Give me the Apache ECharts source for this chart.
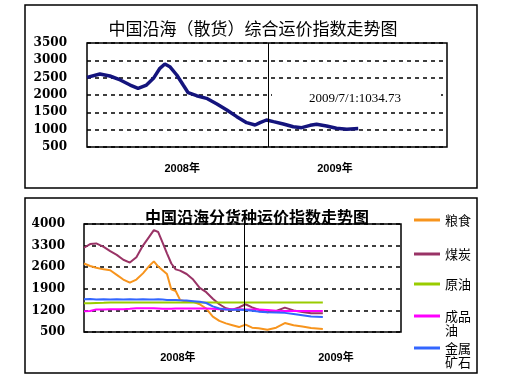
<!DOCTYPE html>
<html><head><meta charset="utf-8">
<script src="https://cdn.jsdelivr.net/npm/echarts@6/dist/echarts.min.js"></script>
<style>html,body{margin:0;padding:0;background:#fff}#c{width:512px;height:384px}</style>
</head><body><div id="c"></div>
<script>
// ---- data ----
const topTitle = '中国沿海（散货）综合运价指数走势图';
const bottomTitle = '中国沿海分货种运价指数走势图';
const yearLabels = ['2008年', '2009年'];
const topYTicks = [500, 1000, 1500, 2000, 2500, 3000, 3500];
const bottomYTicks = [500, 1200, 1900, 2600, 3300, 4000];
const lastNote = '2009/7/1:1034.73';

const compDates = ['2008-01-01','2008-01-27','2008-02-16','2008-03-08','2008-03-28','2008-04-13','2008-04-30','2008-05-14','2008-05-27','2008-06-06','2008-06-16','2008-06-30','2008-07-13','2008-07-23','2008-08-09','2008-08-29','2008-09-19','2008-10-09','2008-10-29','2008-11-18','2008-12-05','2008-12-15','2008-12-28','2009-01-11','2009-01-31','2009-02-20','2009-03-09','2009-03-26','2009-04-08','2009-04-28','2009-05-18','2009-06-08','2009-07-01'];
const compValues = [2510,2606,2548,2433,2288,2192,2288,2481,2770,2894,2817,2577,2288,2067,1980,1904,1740,1567,1375,1202,1135,1202,1279,1231,1163,1086,1058,1125,1154,1106,1039,1010,1035];

const cargoDates = ['2008-01-01','2008-01-15','2008-01-29','2008-02-15','2008-03-01','2008-03-16','2008-03-31','2008-04-15','2008-04-30','2008-05-15','2008-05-30','2008-06-09','2008-06-19','2008-06-29','2008-07-09','2008-07-19','2008-07-29','2008-08-08','2008-08-23','2008-09-07','2008-09-22','2008-10-07','2008-10-22','2008-11-06','2008-11-21','2008-12-06','2008-12-21','2009-01-05','2009-01-20','2009-02-04','2009-02-24','2009-03-16','2009-04-05','2009-04-25','2009-05-15','2009-06-04','2009-07-01'];
const grainValues = [2720,2640,2580,2530,2500,2350,2200,2100,2200,2400,2650,2790,2620,2500,2380,1880,1830,1540,1480,1480,1400,1260,1000,860,780,720,660,740,640,620,570,640,790,720,680,630,600];
const coalValues = [3230,3350,3370,3260,3120,3000,2840,2750,2920,3300,3600,3800,3740,3400,3050,2720,2530,2490,2380,2200,1930,1790,1580,1400,1270,1220,1300,1400,1300,1220,1140,1180,1290,1200,1150,1110,1110];
const crudeValues = [1430,1430,1440,1450,1460,1460,1460,1460,1460,1460,1460,1460,1460,1460,1460,1460,1460,1460,1460,1460,1460,1460,1460,1460,1460,1460,1460,1460,1460,1460,1460,1460,1460,1460,1460,1460,1460];
const productValues = [1170,1180,1230,1230,1240,1240,1240,1250,1270,1270,1270,1270,1260,1250,1250,1250,1260,1260,1260,1260,1260,1260,1250,1240,1240,1240,1240,1230,1230,1230,1210,1190,1180,1180,1180,1180,1180];
const oreValues = [1560,1570,1550,1560,1550,1560,1550,1560,1550,1560,1550,1550,1560,1550,1540,1540,1540,1530,1520,1500,1480,1440,1330,1260,1230,1220,1220,1210,1190,1160,1140,1130,1120,1080,1040,1000,990];

const seriesNames = ['粮食','煤炭','原油','成品油','金属矿石'];
const legendLabels = ['粮食','煤炭','原油','成品\n油','金属\n矿石'];
const seriesColors = ['#F7941D','#993366','#99CC00','#FF00FF','#3366FF'];
const cargoValues = [grainValues, coalValues, crudeValues, productValues, oreValues];

// ---- helpers ----
const day0 = Date.UTC(2008,0,1);
function dayOf(s){ const p = s.split('-').map(Number); return (Date.UTC(p[0],p[1]-1,p[2]) - day0)/86400000; }
const splitDay = dayOf('2009-01-01');
const axisEnd = 726;

const chart = echarts.init(document.getElementById('c'));
const yLabelStyle = {fontFamily:'DejaVu Serif', fontSize:12, fontWeight:'bold', color:'#000', formatter: v => String(v)};
const xLabelStyle = {fontFamily:'Liberation Sans, Noto Sans CJK SC', fontSize:11, fontWeight:'bold', color:'#000'};
const dashed = {color:'#000', width:1.5, type:[4,4]};

const legends = seriesNames.map((n,i) => {
  const wrapped = legendLabels[i].indexOf('\n') >= 0;
  const iconY = [220,254,284,316,348][i];
  return {
    data:[n], orient:'vertical', left:414, top: wrapped ? iconY - 21 : iconY - 7, padding:0,
    itemWidth:26, itemHeight:3, icon:'rect',
    formatter: () => wrapped ? ' \n' + legendLabels[i] : legendLabels[i],
    textStyle:{fontFamily:'Noto Sans CJK SC', fontSize:13, lineHeight:14, color:'#000'}
  };
});

chart.setOption({
  animation:false,
  backgroundColor:'#fff',
  title:[
    {text:topTitle, left:248, top:15, textAlign:'center', textStyle:{fontFamily:'Noto Sans CJK SC', fontSize:17, fontWeight:'normal', color:'#000'}},
    {text:bottomTitle, left:252, top:204, textAlign:'center', textStyle:{fontFamily:'Noto Sans CJK SC', fontSize:16, fontWeight:'bold', color:'#000'}}
  ],
  legend: legends,
  grid:[
    {left:87, top:43, width:360, height:104, show:true, borderColor:'#000', borderWidth:1.5},
    {left:84, top:224, width:317, height:108, show:true, borderColor:'#000', borderWidth:1.5}
  ],
  xAxis:[
    {gridIndex:0, type:'value', min:0, max:axisEnd, axisLine:{show:false}, axisTick:{show:false}, splitLine:{show:false},
     axisLabel:{customValues:[192,500], margin:16, formatter:v => v < splitDay ? yearLabels[0] : yearLabels[1], ...xLabelStyle}},
    {gridIndex:1, type:'value', min:0, max:axisEnd, axisLine:{show:false}, axisTick:{show:false}, splitLine:{show:false},
     axisLabel:{customValues:[215,577], margin:20, formatter:v => v < splitDay ? yearLabels[0] : yearLabels[1], ...xLabelStyle}}
  ],
  yAxis:[
    {gridIndex:0, type:'value', min:500, max:3500, interval:500, axisLine:{show:false}, axisTick:{show:false},
     axisLabel:{margin:20, ...yLabelStyle}, splitLine:{show:true, lineStyle:dashed}},
    {gridIndex:1, type:'value', min:500, max:4000, axisLine:{show:false},
     axisTick:{show:false, customValues:bottomYTicks},
     axisLabel:{margin:19, customValues:bottomYTicks, ...yLabelStyle}, splitLine:{show:true, lineStyle:dashed}}
  ],
  graphic:[
    {type:'rect', shape:{x:25, y:5, width:452, height:183}, style:{fill:null, stroke:'#000', lineWidth:1.5}, z:-1},
    {type:'rect', shape:{x:25, y:198, width:452, height:175}, style:{fill:null, stroke:'#000', lineWidth:1.5}, z:-1},
    {type:'rect', shape:{x:272, y:89, width:169, height:18}, style:{fill:'#fff'}, z:5},
    {type:'text', x:355, y:99, z:6, style:{text:lastNote, fontFamily:'Liberation Serif', fontSize:13, fill:'#000', align:'center', verticalAlign:'middle'}}
  ],
  series:[
    {type:'line', name:'综合', xAxisIndex:0, yAxisIndex:0, symbol:'none', lineStyle:{color:'#14147d', width:3.5}, itemStyle:{color:'#14147d'},
     data: compDates.map((d,i)=>[dayOf(d), compValues[i]]),
     markLine:{silent:true, symbol:'none', label:{show:false}, lineStyle:{color:'#000', width:1, type:'solid'}, data:[{xAxis:splitDay}]}},
    ...seriesNames.map((n,i)=>({
      type:'line', name:n, xAxisIndex:1, yAxisIndex:1, symbol:'none',
      lineStyle:{color:seriesColors[i], width:2}, itemStyle:{color:seriesColors[i]},
      data: cargoDates.map((d,j)=>[dayOf(d), cargoValues[i][j]]),
      markLine: i===0 ? {silent:true, symbol:'none', label:{show:false}, lineStyle:{color:'#000', width:1, type:'solid'}, data:[{xAxis:splitDay}]} : undefined
    }))
  ]
});
</script></body></html>
